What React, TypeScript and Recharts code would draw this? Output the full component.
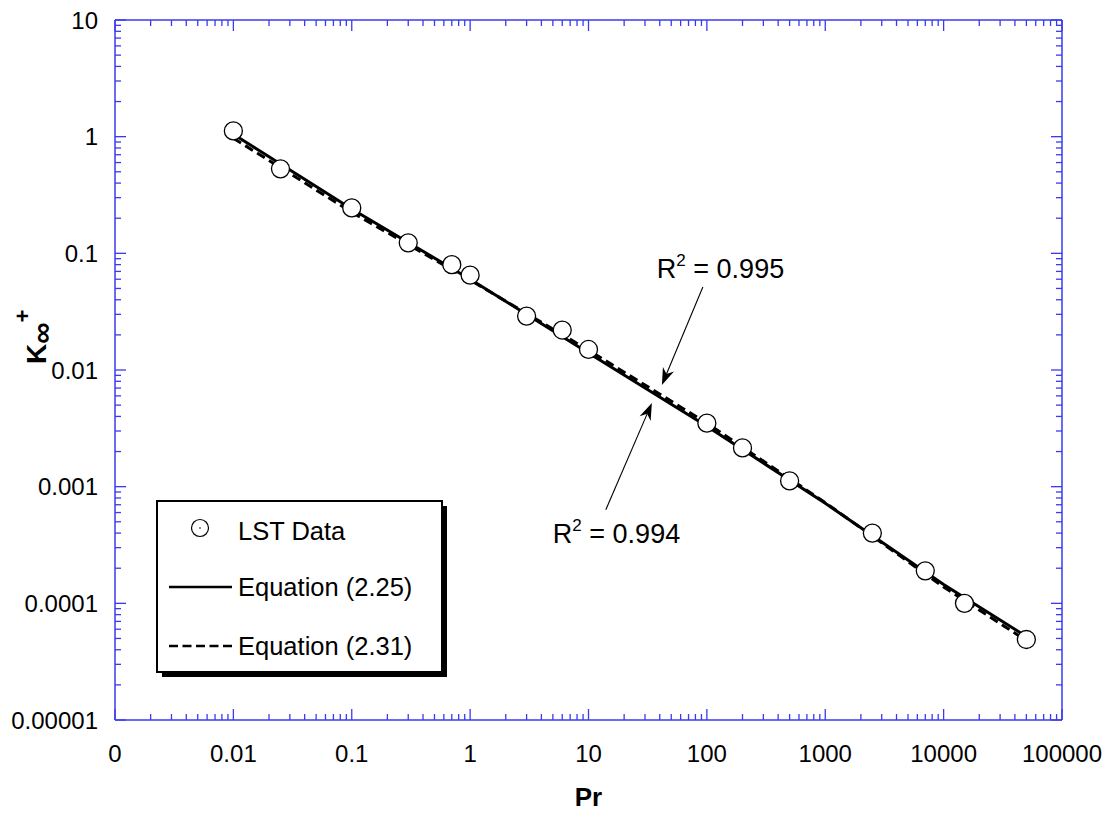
import React from "react";
import {
  ComposedChart,
  Line,
  Scatter,
  XAxis,
  YAxis,
  ReferenceLine,
  ReferenceDot,
  Legend,
} from "recharts";

// axis decades and their printed labels
const xDecades = [0.001, 0.01, 0.1, 1, 10, 100, 1000, 10000, 100000];
const xTickLabels = ["0", "0.01", "0.1", "1", "10", "100", "1000", "10000", "100000"];
const yDecades = [0.00001, 0.0001, 0.001, 0.01, 0.1, 1, 10];
const yTickLabels = ["0.00001", "0.0001", "0.001", "0.01", "0.1", "1", "10"];

// LST data
const lstPr = [0.01, 0.025, 0.1, 0.3, 0.7, 1, 3, 6, 10, 100, 200, 500, 2500, 7000, 15000, 50000];
const lstK = [
  1.12, 0.53, 0.245, 0.123, 0.08, 0.065, 0.029, 0.022, 0.015, 0.0035, 0.00215, 0.00112,
  0.0004, 0.00019, 0.0001, 0.000049,
];

// correlation curves
const eqPr = [0.01, 0.1, 1, 10, 100, 1000, 10000, 50000];
const eq225K = [1.05, 0.24, 0.06, 0.014, 0.0033, 0.00072, 0.000145, 0.000052];
const eq231K = [0.97, 0.225, 0.059, 0.0148, 0.0035, 0.00073, 0.000138, 0.000048];

const seriesNames = ["LST Data", "Equation (2.25)", "Equation (2.31)"];

// R² annotations (data coords)
const r2Values = ["0.995", "0.994"];
const r2TextAt = [
  { x: 37.8, y: 0.0615 },
  { x: 5.0, y: 0.00033 },
];
const r2ArrowFrom = [
  { x: 92.5, y: 0.0515 },
  { x: 14.0, y: 0.000633 },
];
const r2ArrowTo = [
  { x: 41.7, y: 0.00745 },
  { x: 34.3, y: 0.00522 },
];

const AXIS = "#3a3af0";
const FONT = "Arial, 'Liberation Sans', Helvetica, sans-serif";

const minorMult = [2, 3, 4, 5, 6, 7, 8, 9];
const withMinor = (decs: number[]) =>
  decs.flatMap((d, i) => (i < decs.length - 1 ? [d, ...minorMult.map((m) => d * m)] : [d]));

const xTicks = withMinor(xDecades);
const yTicks = withMinor(yDecades);

const lstData = lstPr.map((x, i) => ({ x, y: lstK[i] }));
const eq225Data = eqPr.map((x, i) => ({ x, y: eq225K[i] }));
const eq231Data = eqPr.map((x, i) => ({ x, y: eq231K[i] }));

function makeTick(side: string, decades: number[], labels: string[] | null) {
  return (props: any) => {
    const { x, y, payload } = props;
    const v = payload.value;
    const idx = decades.findIndex((d) => Math.abs(v - d) / d < 1e-6);
    const len = idx >= 0 ? 11 : 6;
    let tick;
    let label = null;
    if (side === "bottom") {
      tick = <line x1={x} x2={x} y1={y} y2={y - len} stroke={AXIS} strokeWidth={1.3} />;
      if (labels && idx >= 0)
        label = (
          <text x={x} y={y + 33} textAnchor="middle" dominantBaseline="central" fontSize={24} fontFamily={FONT} fill="#000">
            {labels[idx]}
          </text>
        );
    } else if (side === "top") {
      tick = <line x1={x} x2={x} y1={y} y2={y + len} stroke={AXIS} strokeWidth={1.3} />;
    } else if (side === "left") {
      tick = <line x1={x} x2={x + len} y1={y} y2={y} stroke={AXIS} strokeWidth={1.3} />;
      if (labels && idx >= 0)
        label = (
          <text x={x - 17} y={y} textAnchor="end" dominantBaseline="central" fontSize={24} fontFamily={FONT} fill="#000">
            {labels[idx]}
          </text>
        );
    } else {
      tick = <line x1={x} x2={x - len} y1={y} y2={y} stroke={AXIS} strokeWidth={1.3} />;
    }
    return (
      <g>
        {tick}
        {label}
      </g>
    );
  };
}

const OpenCircle = (props: any) => {
  const { cx, cy } = props;
  return <circle cx={cx} cy={cy} r={9} fill="#fff" stroke="#000" strokeWidth={1.3} />;
};

const Arrow = (props: any) => {
  const { x1, y1, x2, y2 } = props;
  const dx = x2 - x1;
  const dy = y2 - y1;
  const L = Math.sqrt(dx * dx + dy * dy);
  const ux = dx / L;
  const uy = dy / L;
  const head = 17;
  const half = 6;
  const bx = x2 - ux * head;
  const by = y2 - uy * head;
  const nx = x2 - ux * head * 0.7;
  const ny = y2 - uy * head * 0.7;
  const pts = [
    [x2, y2],
    [bx - uy * half, by + ux * half],
    [nx, ny],
    [bx + uy * half, by - ux * half],
  ]
    .map((p) => p.join(","))
    .join(" ");
  return (
    <g>
      <line x1={x1} y1={y1} x2={nx} y2={ny} stroke="#000" strokeWidth={1.1} />
      <polygon points={pts} fill="#000" />
    </g>
  );
};

const r2Text = (value: string) => (props: any) => {
  const { cx, cy } = props;
  return (
    <text x={cx} y={cy} fontSize={27} fontFamily={FONT} fill="#000">
      R
      <tspan fontSize={17} dy={-12}>
        2
      </tspan>
      <tspan dy={12}>{" = " + value}</tspan>
    </text>
  );
};

function LegendBox() {
  const textStyle = { fontSize: 25.5, fontFamily: FONT, fill: "#000" };
  return (
    <svg width={300} height={185} style={{ display: "block" }}>
      <rect x={6} y={6} width={285} height={171} fill="#000" />
      <rect x={1} y={1} width={285} height={171} fill="#fff" stroke="#000" strokeWidth={2} />
      <circle cx={44} cy={28} r={8.5} fill="#fff" stroke="#000" strokeWidth={1.2} />
      <circle cx={44} cy={28} r={0.8} fill="#000" />
      <text x={82} y={31} dominantBaseline="central" {...textStyle}>
        {seriesNames[0]}
      </text>
      <line x1={13} x2={76} y1={87} y2={87} stroke="#000" strokeWidth={2.5} />
      <text x={82} y={87} dominantBaseline="central" {...textStyle}>
        {seriesNames[1]}
      </text>
      <line x1={13} x2={76} y1={146} y2={146} stroke="#000" strokeWidth={2.5} strokeDasharray="9 4.5" />
      <text x={82} y={146} dominantBaseline="central" {...textStyle}>
        {seriesNames[2]}
      </text>
    </svg>
  );
}

const XTitle = (props: any) => {
  const { viewBox } = props;
  return (
    <text
      x={viewBox.x + viewBox.width / 2}
      y={viewBox.y + 77}
      textAnchor="middle"
      dominantBaseline="central"
      fontSize={26}
      fontWeight="bold"
      fontFamily={FONT}
      fill="#000"
    >
      Pr
    </text>
  );
};

const YTitle = (props: any) => {
  const { viewBox } = props;
  // baseline sits ~69px left of the axis, text starts a bit below mid-height
  const bx = viewBox.x + viewBox.width - 69;
  const by = viewBox.y + viewBox.height / 2 - 6;
  return (
    <text
      transform={`translate(${bx}, ${by}) rotate(-90)`}
      textAnchor="start"
      fontSize={28}
      fontWeight="bold"
      fontFamily={FONT}
      fill="#000"
    >
      K
      <tspan fontSize={30} dy={6}>
        ∞
      </tspan>
      <tspan fontSize={22} dy={-22}>
        +
      </tspan>
    </text>
  );
};

export default function App() {
  return (
    <div style={{ position: "absolute", left: 0, top: 0, background: "#fff" }}>
      <ComposedChart
        width={1112}
        height={815}
        margin={{ top: 19, right: 49, bottom: 94, left: 114 }}
      >
        <XAxis
          xAxisId={0}
          dataKey="x"
          type="number"
          scale="log"
          domain={[0.001, 100000]}
          allowDataOverflow
          ticks={xTicks}
          interval={0}
          height={1}
          tickSize={0}
          tickMargin={0}
          tickLine={false}
          axisLine={{ stroke: AXIS, strokeWidth: 1.5 }}
          tick={makeTick("bottom", xDecades, xTickLabels)}
          label={<XTitle />}
        />
        <XAxis
          xAxisId="top"
          orientation="top"
          dataKey="x"
          type="number"
          scale="log"
          domain={[0.001, 100000]}
          allowDataOverflow
          ticks={xTicks}
          interval={0}
          height={1}
          tickSize={0}
          tickMargin={0}
          tickLine={false}
          axisLine={{ stroke: AXIS, strokeWidth: 1.5 }}
          tick={makeTick("top", xDecades, null)}
        />
        <YAxis
          yAxisId={0}
          dataKey="y"
          type="number"
          scale="log"
          domain={[0.00001, 10]}
          allowDataOverflow
          ticks={yTicks}
          interval={0}
          width={1}
          tickSize={0}
          tickMargin={0}
          tickLine={false}
          axisLine={{ stroke: AXIS, strokeWidth: 1.5 }}
          tick={makeTick("left", yDecades, yTickLabels)}
          label={<YTitle />}
        />
        <YAxis
          yAxisId="right"
          orientation="right"
          dataKey="y"
          type="number"
          scale="log"
          domain={[0.00001, 10]}
          allowDataOverflow
          ticks={yTicks}
          interval={0}
          width={1}
          tickSize={0}
          tickMargin={0}
          tickLine={false}
          axisLine={{ stroke: AXIS, strokeWidth: 1.5 }}
          tick={makeTick("right", yDecades, null)}
        />
        <Line
          data={eq231Data}
          dataKey="y"
          name={seriesNames[2]}
          stroke="#000"
          strokeWidth={3}
          strokeDasharray="9 5"
          dot={false}
          activeDot={false}
          isAnimationActive={false}
        />
        <Line
          data={eq225Data}
          dataKey="y"
          name={seriesNames[1]}
          stroke="#000"
          strokeWidth={3}
          dot={false}
          activeDot={false}
          isAnimationActive={false}
        />
        <Scatter
          data={lstData}
          dataKey="y"
          name={seriesNames[0]}
          shape={<OpenCircle />}
          isAnimationActive={false}
        />
        {r2Values.map((v, i) => (
          <ReferenceLine
            key={"arrow" + i}
            segment={[r2ArrowFrom[i], r2ArrowTo[i]]}
            shape={<Arrow />}
          />
        ))}
        {r2Values.map((v, i) => (
          <ReferenceDot
            key={"r2" + i}
            x={r2TextAt[i].x}
            y={r2TextAt[i].y}
            r={0}
            shape={r2Text(v)}
          />
        ))}
        <Legend
          layout="vertical"
          align="center"
          verticalAlign="middle"
          width={300}
          height={185}
          wrapperStyle={{ left: 156, top: 500, width: 300, height: 185 }}
          content={<LegendBox />}
        />
      </ComposedChart>
    </div>
  );
}
